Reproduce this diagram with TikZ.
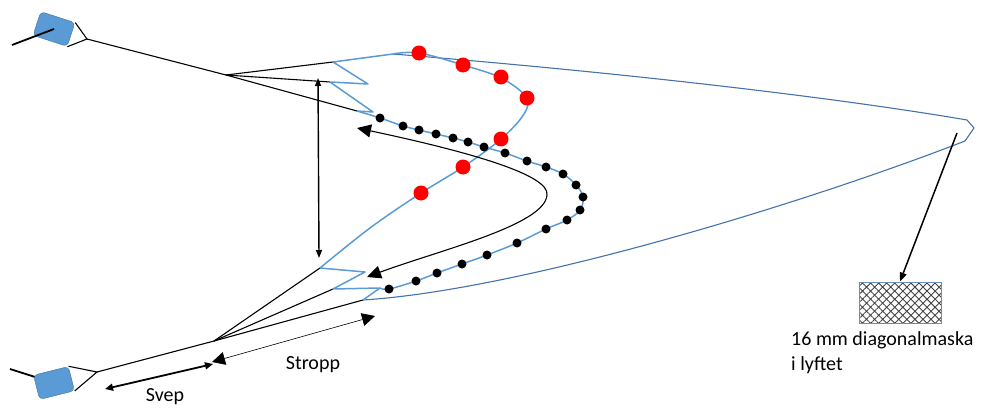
\documentclass[tikz,border=0pt]{standalone}
\usepackage{fontspec}
\setmainfont{Carlito}
\usepackage{tikz}
\usetikzlibrary{arrows.meta,calc,patterns.meta,positioning}

\definecolor{netzblau}{RGB}{91,155,213}
\definecolor{kantenblau}{RGB}{68,114,172}
\definecolor{brettrand}{RGB}{65,113,156}

\tikzset{
  brett/.style={draw=brettrand, fill=netzblau, rounded corners=4pt, minimum width=36pt, minimum height=25pt, inner sep=0pt},
  leine/.style={black, line width=1.1pt},
  netz/.style={netzblau, line width=1.5pt, line join=round},
  kante/.style={kantenblau, line width=1.1pt, line join=round},
  schwimmer/.style={circle, fill=red, inner sep=0pt, minimum size=15pt},
  kette/.style={circle, fill=black, inner sep=0pt, minimum size=9pt},
  beschriftung/.style={font=\fontsize{20}{25}\selectfont, inner sep=0pt},
  maske/.style={draw=kantenblau!80, line width=1pt, minimum width=82pt, minimum height=41pt,
    pattern={Hatch[angle=45,distance=5.7pt,line width=0.9pt]}, pattern color=gray!55!black},
}

\begin{document}
\begin{tikzpicture}[x=1pt,y=-1pt]
\useasboundingbox (0,0) rectangle (992,412);
%Punkte in Pixeln, y nach unten
  \coordinate (kurrO) at (12,45);
  \coordinate (kurrU) at (10,369);
  \coordinate (hahnO) at (87,39);
  \coordinate (hahnU) at (97,372);
  \coordinate (jO) at (226,75);
  \coordinate (jU) at (214,341);
%Flügel oben
  \coordinate (A) at (333,62);
  \coordinate (B) at (330,82);
  \coordinate (C) at (357,111);
  \coordinate (T) at (393,54);
%Flügel unten
  \coordinate (D) at (320,268);
  \coordinate (E) at (333,289);
  \coordinate (G) at (380,288);
  \coordinate (F) at (363,300);
%Steert
  \coordinate (spitzeO) at (967,120);
  \coordinate (spitze) at (974,128);
  \coordinate (spitzeU) at (965,141);

%Scherbretter
\draw[line width=1.8pt] (kurrU) -- (54,383);
\node[brett, rotate=-18] (brettO) at (54,29) {};
\node[brett, rotate=14] (brettU) at (54,383) {};
\draw[line width=1.8pt] (kurrO) -- (brettO.center);
\draw[leine] (brettO.north east) -- (hahnO) -- (brettO.south east);
\draw[leine] (brettU.north east) -- (hahnU) -- (brettU.south east);

%Stropp und Svep
\draw[leine] (hahnO) -- (jO);
\draw[leine] (hahnU) -- (jU);
\foreach \p in {A,B,C} \draw[leine] (jO) -- (\p);
\foreach \p in {D,E,F} \draw[leine] (jU) -- (\p);

%Netz
\draw[kante] (T) .. controls (650,75) and (850,100) .. (spitzeO) -- (spitze) -- (spitzeU)
  .. controls (800,205) and (520,290) .. (F);
\draw[netz] (T) -- (A) -- (368,84) -- (B) -- (373,112) -- (C);
\draw[netz] (D) -- (365,272) -- (E) -- (G) -- (F);
\draw[netz] plot[smooth, tension=0.6] coordinates {(C) (380,118) (403,126) (419,130) (436,134) (453,138) (468,142)
  (484,147) (505,153) (527,161) (546,167) (563,174) (576,185) (583,197) (580,210) (567,220) (546,229)
  (517,243) (487,255) (462,264) (437,273) (416,281) (389,289) (G)};
\draw[netz] plot[smooth, tension=0.6] coordinates {(T) (419,53) (463,65) (501,78) (526,97) (524,114)
  (501,139) (463,167) (421,193) (370,228) (D)};

%Kette und Schwimmer
\foreach \p [count=\i] in {(380,118),(403,126),(419,130),(436,134),(453,138),(468,142),(484,147),(505,153),
  (527,161),(546,167),(563,174),(576,185),(583,197),(580,210),(567,220),(546,229),(517,243),(487,255),
  (462,264),(437,273),(416,281),(389,289)}
  \node[kette] (k\i) at \p {};
\foreach \p [count=\i] in {(419,53),(463,65),(501,77),(527,98),(501,139),(463,167),(421,193)}
  \node[schwimmer] (s\i) at \p {};

%Pfeile
\coordinate (hoeheO) at (318,78);
\coordinate (hoeheU) at (319,258);
\draw[line width=1.4pt, >={Triangle[length=8pt,width=6pt]}, <->] (hoeheO) -- (hoeheU);

\coordinate (bogenO) at (357,128);
\coordinate (bogenM) at (547,195);
\coordinate (bogenU) at (367,277);
\draw[line width=1.1pt, >={Triangle[length=14pt,width=13pt]}, <->] (bogenO) .. controls (470,152) and (550,175) .. (bogenM)
  .. controls (545,225) and (440,250) .. (bogenU);

\coordinate (svepA) at (105,389);
\coordinate (svepB) at (213,364);
\draw[line width=1.8pt, >={Triangle[length=8pt,width=7pt]}, <->] (svepA) -- (svepB);
\coordinate (stroppA) at (212,362);
\coordinate (stroppB) at (375,316);
\draw[line width=0.6pt, >={Triangle[length=13pt,width=13pt]}, <->] (stroppA) -- (stroppB);

\node[maske] (maske) at (900,302.5) {};
\coordinate (lyft) at (957,133);
\draw[line width=1.5pt, -{Triangle[length=9pt,width=7pt]}] (lyft) -- (maske.north);

%Texte
\node[beschriftung] (svep) at (165,397) {Svep};
\node[beschriftung] (stropp) at (313,365) {Stropp};
\node[beschriftung, align=left, anchor=north west] (masketext) at (791,331) {16 mm diagonalmaska\\i lyftet};
\end{tikzpicture}
\end{document}
